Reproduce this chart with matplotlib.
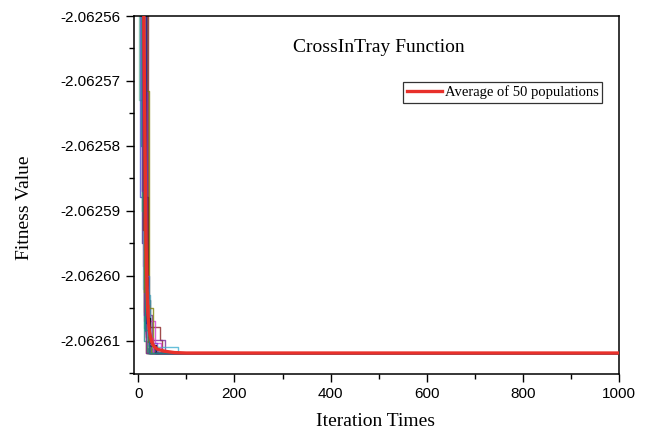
import matplotlib
matplotlib.use("Agg")
import matplotlib.pyplot as plt
from matplotlib.ticker import FormatStrFormatter, MultipleLocator

plt.rcParams['axes.unicode_minus'] = False

# ---------------- data ----------------
FINAL = -2.06261187
MAX_ITER = 1000

# switch iterations (step-post) for individual populations
pop_iters = [
    [0, 2, 12, 16],
    [0, 4, 19, 24],
    [0, 10, 21, 25],
    [0, 21, 46, 50],
    [0, 18, 29, 56],
    [0, 14, 25, 83],
    [0, 12, 35, 48],
    [0, 19, 22, 30],
    [0, 8, 15, 22],
    [0, 6, 11, 18],
    [0, 15, 23, 40],
    [0, 11, 17],
    [0, 13, 20, 38],
    [0, 9, 16, 30],
    [0, 12, 19, 28],
    [0, 7, 14, 21],
    [0, 10, 18, 26],
    [0, 13, 22, 33],
    [0, 11, 16, 20],
    [0, 9, 13, 19],
    [0, 14, 20, 44],
    [0, 12, 17, 24],
    [0, 16, 24, 36],
    [0, 10, 15, 23],
    [0, 8, 12, 17],
    [0, 13, 18, 27],
    [0, 15, 21, 31],
    [0, 11, 20, 26],
    [0, 17, 23, 34],
    [0, 12, 14, 22],
]
pop_vals = [
    [-2.06240, -2.0625729, -2.0626080],
    [-2.06245, -2.0625878, -2.0626098],
    [-2.06242, -2.0625878, -2.0626037],
    [-2.06238, -2.0626078, -2.0626098],
    [-2.06244, -2.0626060, -2.0626098],
    [-2.06250, -2.0626030, -2.0626109],
    [-2.06243, -2.0626070, -2.0626104],
    [-2.06249, -2.0625715, -2.0626050],
    [-2.06246, -2.0625950, -2.0626090],
    [-2.06241, -2.0625800, -2.0626100],
    [-2.06239, -2.0626000, -2.0626112],
    [-2.06248, -2.0626055],
    [-2.06242, -2.0626040, -2.0626104],
    [-2.06244, -2.0625985, -2.0626096],
    [-2.06247, -2.0626010, -2.0626102],
    [-2.06243, -2.0625900, -2.0626085],
    [-2.06246, -2.0626020, -2.0626095],
    [-2.06241, -2.0626045, -2.0626106],
    [-2.06249, -2.0625960, -2.0626092],
    [-2.06245, -2.0625850, -2.0626070],
    [-2.06240, -2.0626035, -2.0626110],
    [-2.06248, -2.0625990, -2.0626088],
    [-2.06242, -2.0626065, -2.0626107],
    [-2.06247, -2.0625930, -2.0626094],
    [-2.06244, -2.0625870, -2.0626060],
    [-2.06246, -2.0626015, -2.0626099],
    [-2.06243, -2.0626050, -2.0626105],
    [-2.06249, -2.0626025, -2.0626101],
    [-2.06241, -2.0626072, -2.0626108],
    [-2.06245, -2.0625910, -2.0626083],
]

# average of 50 populations
avg_iters = [0, 8, 12, 14, 16, 18, 20, 23, 27, 32, 40, 55, 75, 100, 1000]
avg_vals = [-2.06240, -2.06252, -2.062565, -2.062580, -2.062594, -2.062602,
            -2.062606, -2.0626085, -2.0626100, -2.0626108, -2.0626113,
            -2.0626116, -2.0626118, -2.06261187, -2.06261187]

pop_colors = ['#7fcf9f', '#4a4ad6', '#000000', '#8a2020', '#7a2a9a', '#40b0d0',
              '#d43cd4', '#808000', '#20208a', '#1a8a8a', '#3d6ad6', '#e08020',
              '#7a40e0', '#e03080', '#555555', '#1fa070', '#5fbfe0', '#b05030',
              '#6060c0', '#30a050']

legend_label = "Average of 50 populations"
title_text = "CrossInTray Function"
xlabel_text = "Iteration Times"
ylabel_text = "Fitness Value"

# ---------------- figure ----------------
fig = plt.figure(figsize=(6.48, 4.34), dpi=100)
ax = fig.add_axes([133.5/648, 1-374/434, (619-133.5)/648, (374-16)/434])

for i, (its, vs) in enumerate(zip(pop_iters, pop_vals)):
    xs = list(its) + [MAX_ITER]
    ys = list(vs) + [FINAL, FINAL]
    ax.step(xs, ys, where='post', color=pop_colors[i % len(pop_colors)],
            lw=1.0, alpha=0.8, zorder=2)

ax.plot(avg_iters, avg_vals, color='#e8302a', lw=2.4, zorder=5, label=legend_label)

ax.set_xlim(-10, 1000)
ax.set_ylim(-2.0626151, -2.06256)

ax.xaxis.set_major_locator(MultipleLocator(200))
ax.xaxis.set_minor_locator(MultipleLocator(100))
ax.yaxis.set_major_locator(MultipleLocator(1e-5))
ax.yaxis.set_minor_locator(MultipleLocator(5e-6))
ax.yaxis.set_major_formatter(FormatStrFormatter('%.5f'))

ax.tick_params(which='major', direction='out', length=6, width=1.0,
               labelsize=11, top=False, right=False)
ax.tick_params(axis='x', which='major', pad=3)
ax.tick_params(which='minor', direction='out', length=3.5, width=1.0,
               top=False, right=False)
for lab in ax.get_xticklabels() + ax.get_yticklabels():
    lab.set_fontfamily('Liberation Sans')
for sp in ax.spines.values():
    sp.set_linewidth(1.1)

serif = ['Liberation Serif', 'DejaVu Serif']
fig.text(379/648, 1-47/434, title_text, ha='center', va='center',
         fontsize=14, family=serif)
fig.text(376/648, 1-421/434, xlabel_text, ha='center', va='center',
         fontsize=14, family=serif)
fig.text(25/648, 1-208/434, ylabel_text, ha='center', va='center',
         rotation=90, fontsize=14, family=serif)

leg = ax.legend(loc='upper right', bbox_to_anchor=(602/648, 1-82/434),
                bbox_transform=fig.transFigure, prop={'family': serif, 'size': 10.5},
                frameon=True, fancybox=False, borderpad=0.25, borderaxespad=0,
                handlelength=2.4, handletextpad=0.2)
leg.get_frame().set_edgecolor('black')
leg.get_frame().set_linewidth(0.9)

fig.savefig('out.png', dpi=100)
